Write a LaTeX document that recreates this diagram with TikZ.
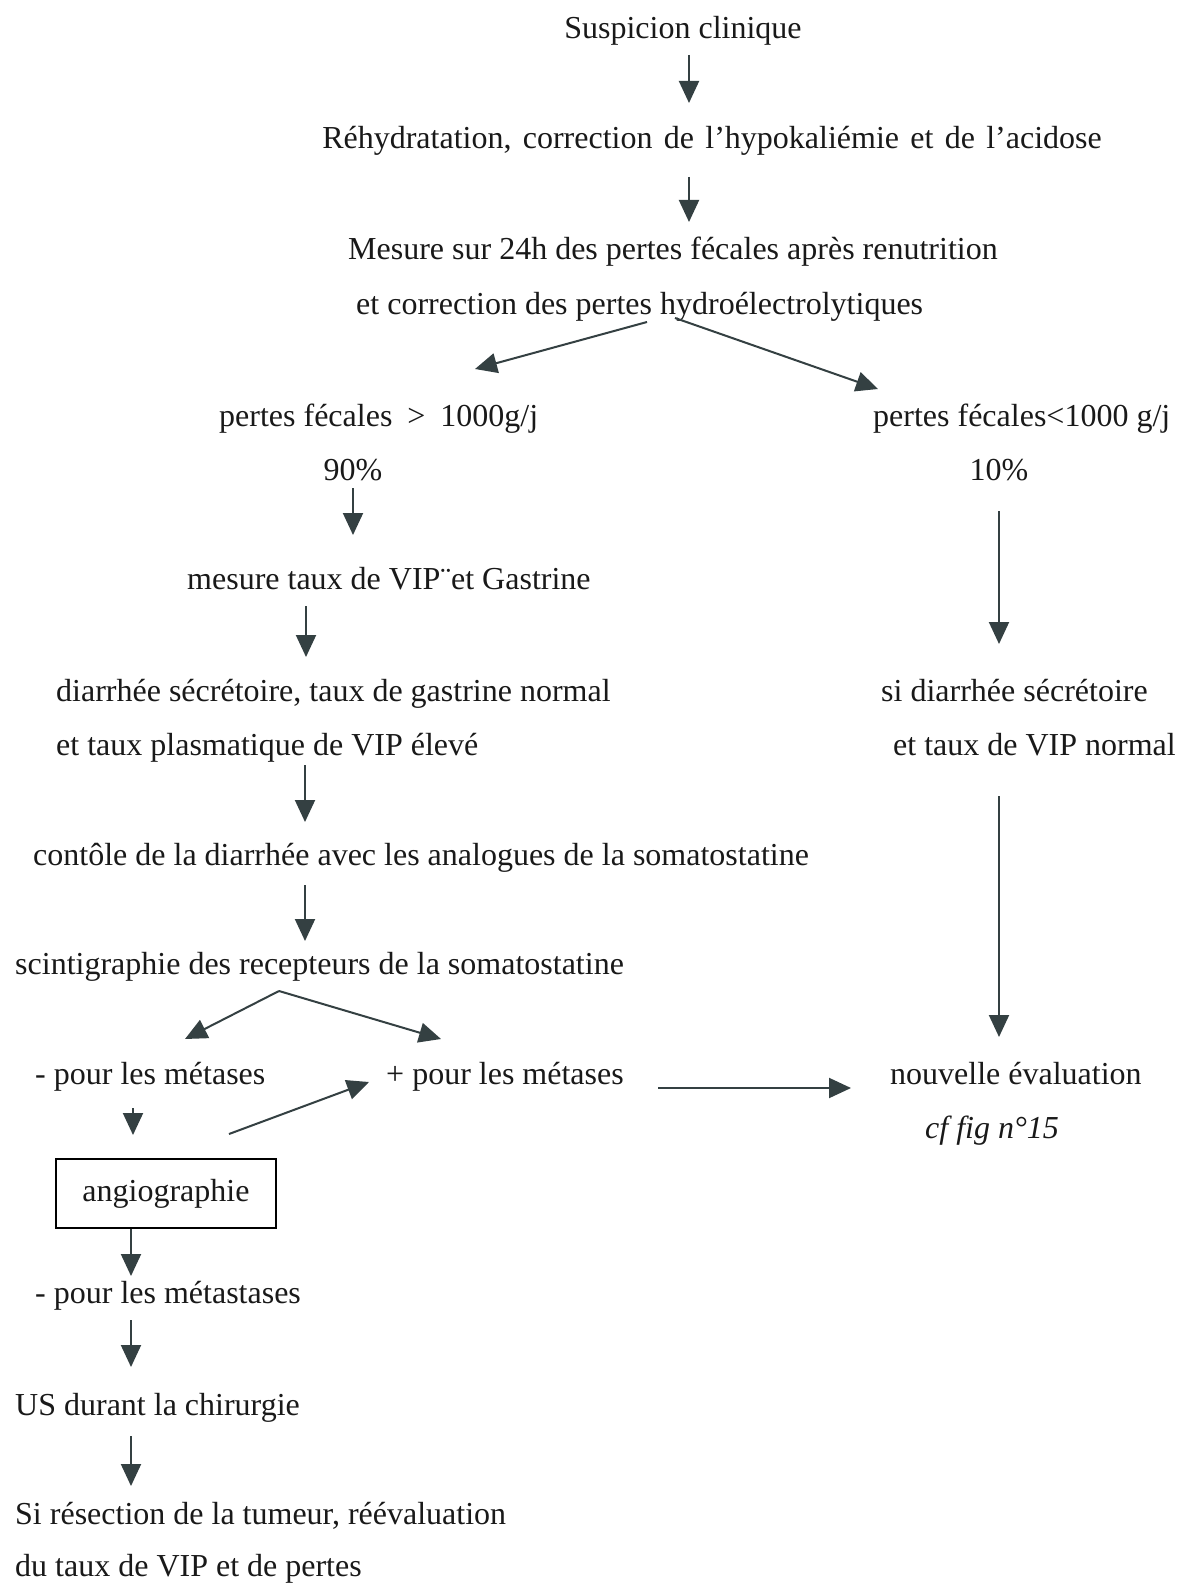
\documentclass[tikz,border=0pt]{standalone}
\usepackage{fontspec}
\setmainfont{Liberation Serif}
\usetikzlibrary{arrows.meta}
\definecolor{arrcol}{RGB}{52,64,66}
\definecolor{txtcol}{RGB}{25,25,25}
\begin{document}
\begin{tikzpicture}[x=1pt,y=-1pt,
  txt/.style={inner sep=0pt,text=txtcol,yshift=-8.5pt,font=\fontsize{32}{38}\selectfont},
  arr/.style={draw=arrcol,line width=2pt,-{Triangle[length=22pt,width=20pt]}},
  boxed/.style={draw=black,line width=1.2pt,minimum width=220pt,minimum height=69pt,inner sep=0pt,text=txtcol,font=\fontsize{32}{38}\selectfont}]
\useasboundingbox[fill=white] (0,0) rectangle (1178,1586);
% nodes
\node[txt,anchor=mid] (n1) at (683,28) {Suspicion clinique};
\node[txt,anchor=mid] (n2) at (712,138) {\spaceskip=11.3pt\relax Réhydratation, correction de l’hypokaliémie et de l’acidose};
\node[txt,anchor=mid west] (n3a) at (348,249) {Mesure sur 24h des pertes fécales après renutrition};
\node[txt,anchor=mid west] (n3b) at (356,304) {et correction des pertes hydroélectrolytiques};
\node[txt,anchor=mid west] (n4) at (219,416) {pertes fécales\hspace{15pt}>\hspace{15pt}1000g/j};
\node[txt,anchor=mid] (n5) at (353,470) {90\%};
\node[txt,anchor=mid west] (n6) at (187,579) {mesure taux de VIP¨et Gastrine};
\node[txt,anchor=mid west] (n7a) at (56,691) {diarrhée sécrétoire, taux de gastrine normal};
\node[txt,anchor=mid west] (n7b) at (56,745) {et taux plasmatique de VIP élevé};
\node[txt,anchor=mid west] (n8) at (33,855) {contôle de la diarrhée avec les analogues de la somatostatine};
\node[txt,anchor=mid west] (n9) at (15,964) {scintigraphie des recepteurs de la somatostatine};
\node[txt,anchor=mid west] (n10) at (35,1074) {- pour les métases};
\node[txt,anchor=mid west] (n11) at (386,1074) {+ pour les métases};
\node[boxed] (n12) at (166,1193.5) {angiographie};
\node[txt,anchor=mid west] (n13) at (35,1293) {- pour les métastases};
\node[txt,anchor=mid west] (n14) at (15,1405) {US durant la chirurgie};
\node[txt,anchor=mid west] (n15a) at (15,1514) {Si résection de la tumeur, réévaluation};
\node[txt,anchor=mid west] (n15b) at (15,1566) {du taux de VIP et de pertes};
\node[txt,anchor=mid west] (r1) at (873,416) {pertes fécales<1000 g/j};
\node[txt,anchor=mid] (r2) at (999,470) {10\%};
\node[txt,anchor=mid west] (r3a) at (881,691) {si diarrhée sécrétoire};
\node[txt,anchor=mid west] (r3b) at (893,745) {et taux de VIP normal};
\node[txt,anchor=mid west] (r4) at (890,1074) {nouvelle évaluation};
\node[txt,anchor=mid west,font=\fontsize{32}{38}\selectfont\itshape] (r5) at (925,1128) {cf fig n°15};
% connector end points
\coordinate (a1s) at (689,55);   \coordinate (a1e) at (689,103);
\coordinate (a2s) at (689,177);  \coordinate (a2e) at (689,222);
\coordinate (a3s) at (647,322);  \coordinate (a3e) at (475,369);
\coordinate (a4s) at (675,318);  \coordinate (a4e) at (878,389);
\coordinate (a5s) at (353,488);  \coordinate (a5e) at (353,535);
\coordinate (a6s) at (306,606);  \coordinate (a6e) at (306,657);
\coordinate (a7s) at (305,765);  \coordinate (a7e) at (305,822);
\coordinate (a8s) at (305,885);  \coordinate (a8e) at (305,941);
\coordinate (a9s) at (279,991);  \coordinate (a9e) at (185,1039);
\coordinate (a10e) at (441,1039);
\coordinate (a11s) at (133,1108); \coordinate (a11e) at (133,1135);
\coordinate (a12s) at (229,1134); \coordinate (a12e) at (369,1082);
\coordinate (a13s) at (658,1088); \coordinate (a13e) at (851,1088);
\coordinate (a14e) at (131,1276);
\coordinate (a15s) at (131,1320); \coordinate (a15e) at (131,1367);
\coordinate (a16s) at (131,1436); \coordinate (a16e) at (131,1486);
\coordinate (a17s) at (999,511); \coordinate (a17e) at (999,644);
\coordinate (a18s) at (999,796); \coordinate (a18e) at (999,1037);
% connectors
\draw[arr] (a1s) -- (a1e);
\draw[arr] (a2s) -- (a2e);
\draw[arr] (a3s) -- (a3e);
\draw[arr] (a4s) -- (a4e);
\draw[arr] (a5s) -- (a5e);
\draw[arr] (a6s) -- (a6e);
\draw[arr] (a7s) -- (a7e);
\draw[arr] (a8s) -- (a8e);
\draw[arr] (a9s) -- (a9e);
\draw[arr] (a9s) -- (a10e);
\draw[arr] (a11s) -- (a11e);
\draw[arr] (a12s) -- (a12e);
\draw[arr] (a13s) -- (a13e);
\draw[arr] (n12.south -| a14e) -- (a14e);
\draw[arr] (a15s) -- (a15e);
\draw[arr] (a16s) -- (a16e);
\draw[arr] (a17s) -- (a17e);
\draw[arr] (a18s) -- (a18e);
\end{tikzpicture}
\end{document}
